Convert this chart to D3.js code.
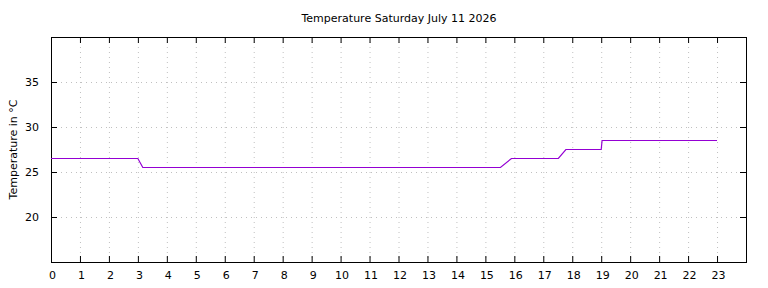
<!DOCTYPE html>
<html>
<head>
<meta charset="utf-8">
<script src="https://cdn.jsdelivr.net/npm/d3@7"></script>
<style>
  body { margin: 0; background: #fff; }
  svg { display: block; }
  text { font-family: "DejaVu Sans", sans-serif; font-size: 11px; fill: #000; }
</style>
</head>
<body>
<svg width="768" height="288"></svg>
<script>
const svg = d3.select('svg');

const title = 'Temperature Saturday July 11 2026';
const yLabel = 'Temperature in °C';

// hour of day, temperature
const hours = [0, 3.0, 3.17, 15.52, 15.9, 17.52, 17.78, 19.0, 19.03, 23.0];
const temps = [26.5, 26.5, 25.5, 25.5, 26.5, 26.5, 27.5, 27.5, 28.5, 28.5];
const xTicks = d3.range(0, 24);
const yTicks = [20, 25, 30, 35];

const data = hours.map((h, i) => ({ h, t: temps[i] }));

const margin = { top: 37, right: 22, bottom: 26, left: 51 };
const width = 768, height = 288;
const innerWidth = width - margin.left - margin.right;
const innerHeight = height - margin.top - margin.bottom;

const g = svg.append('g')
  .attr('transform', `translate(${margin.left},${margin.top})`);

const xScale = d3.scaleLinear().domain([0, 24]).range([0, innerWidth]);
const yScale = d3.scaleLinear().domain([15, 40]).range([innerHeight, 0]);

// grid
g.selectAll('.vgrid').data(xTicks.slice(1))
  .enter().append('line')
  .attr('x1', d => xScale(d) + 0.5).attr('x2', d => xScale(d) + 0.5)
  .attr('y1', 0).attr('y2', innerHeight)
  .attr('stroke', '#c0c0c0').attr('stroke-dasharray', '1,4');
g.selectAll('.hgrid').data(yTicks)
  .enter().append('line')
  .attr('y1', d => Math.round(yScale(d)) + 0.5).attr('y2', d => Math.round(yScale(d)) + 0.5)
  .attr('x1', 0).attr('x2', innerWidth)
  .attr('stroke', '#c0c0c0').attr('stroke-dasharray', '1,4');

// axes (gnuplot style, inward ticks, mirrored)
const xAxis = d3.axisBottom(xScale).tickValues(xTicks).tickSize(-6).tickPadding(9).tickFormat(d3.format('d'));
const xAxisG = g.append('g').attr('transform', `translate(0,${innerHeight})`).call(xAxis);
const xTop = g.append('g').call(d3.axisTop(xScale).tickValues(xTicks).tickSize(-6));
const yAxis = d3.axisLeft(yScale).tickValues(yTicks).tickSize(-6).tickPadding(12);
const yAxisG = g.append('g').call(yAxis);
const yRight = g.append('g').attr('transform', `translate(${innerWidth},0)`)
  .call(d3.axisRight(yScale).tickValues(yTicks).tickSize(-6));
// mirrored axes carry ticks only
xTop.selectAll('text').remove();
yRight.selectAll('text').remove();
[xAxisG, xTop, yAxisG, yRight].forEach(a => {
  a.select('.domain').remove();
  a.selectAll('line').attr('stroke', '#000');
  a.selectAll('text').attr('font-size', 11).attr('font-family', '"DejaVu Sans", sans-serif');
});
xAxisG.selectAll('text').attr('dx', 1);

g.append('rect')
  .attr('x', 0.5).attr('y', 0.5)
  .attr('width', innerWidth).attr('height', innerHeight)
  .attr('fill', 'none').attr('stroke', '#000');

// line
const line = d3.line().x(d => xScale(d.h)).y(d => yScale(d.t));
g.append('path').datum(data)
  .attr('d', line)
  .attr('fill', 'none')
  .attr('stroke', '#9400d3')
  .attr('stroke-width', 1.2);

// labels
svg.append('text')
  .attr('x', 399).attr('y', 22)
  .attr('text-anchor', 'middle')
  .text(title);
svg.append('text')
  .attr('transform', `translate(17,${margin.top + innerHeight / 2}) rotate(-90)`)
  .attr('text-anchor', 'middle')
  .text(yLabel);
</script>
</body>
</html>
